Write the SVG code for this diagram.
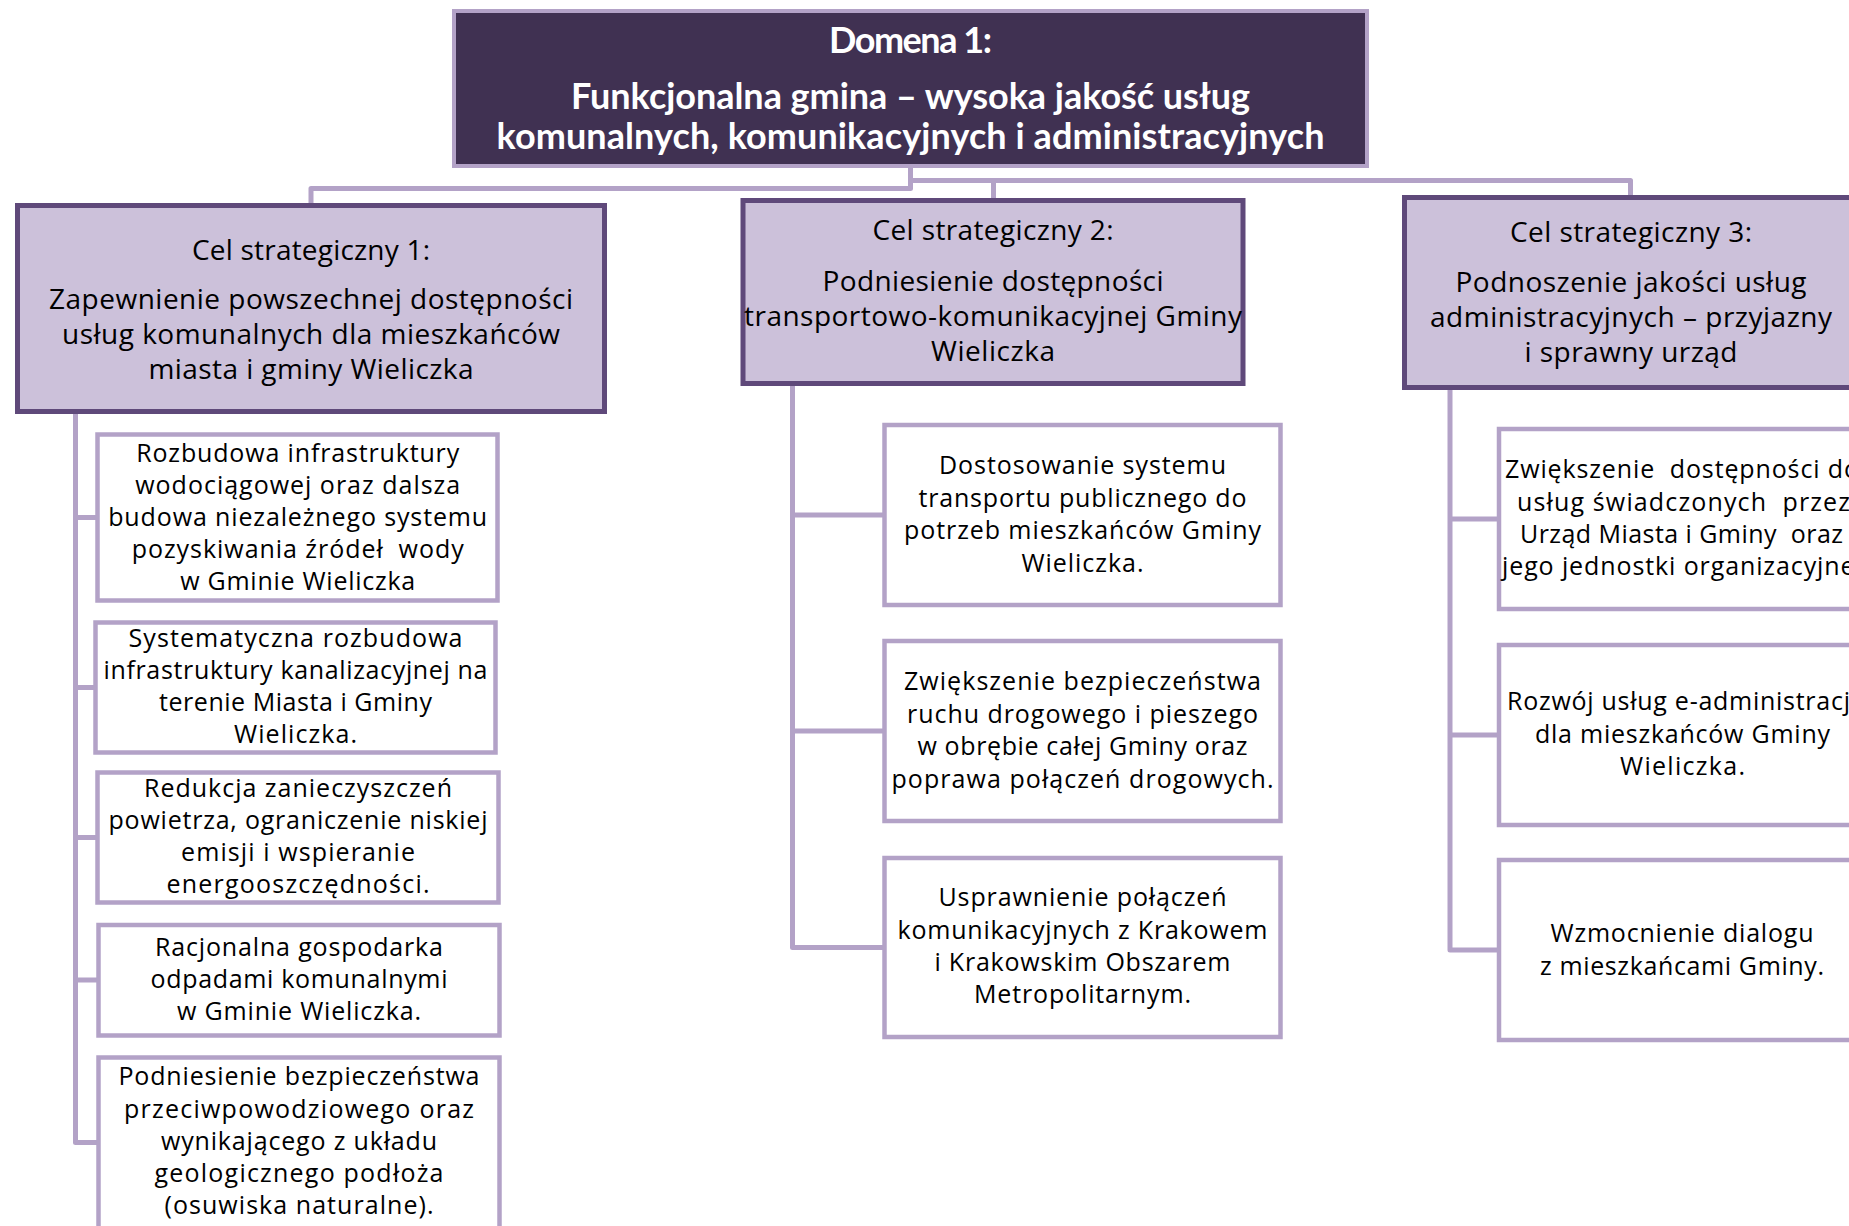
<svg xmlns="http://www.w3.org/2000/svg" width="1849" height="1226" viewBox="0 0 1849 1226">
<style>
.conn{fill:none;stroke:#b3a2c7;stroke-width:5;stroke-linejoin:round;stroke-linecap:square}
.top rect{fill:#403152;stroke:#b3a2c7;stroke-width:4}
.cel rect{fill:#ccc1da;stroke:#5f497a;stroke-width:5}
.task rect{fill:#ffffff;stroke:#b3a2c7;stroke-width:4.5}
text{font-family:"Open Sans","Liberation Sans",sans-serif;fill:#000;text-anchor:middle}
.top text{font-family:Lato,"Open Sans","Liberation Sans",sans-serif;font-weight:bold;font-size:36px;fill:#fff}
.cel text{font-size:28px}
.task text{font-size:25px}
.pre{white-space:pre}
</style>
<rect width="1849" height="1226" fill="#fff"/>
<g id="connectors">
<path class="conn" d="M311,205 V188.5 H910.5 V168"/>
<path class="conn" d="M910.5,180.5 H1630.5 V197"/>
<path class="conn" d="M993.5,180.5 V200"/>
<path class="conn" d="M75.5,414 V1142.5 H96 M75.5,517.5 H96 M75.5,687.5 H94 M75.5,837.5 H96 M75.5,980 H96"/>
<path class="conn" d="M792.5,386 V947.5 H882 M792.5,515 H882 M792.5,731 H882"/>
<path class="conn" d="M1450,390 V950 H1497 M1450,519 H1497 M1450,735 H1497"/>
</g>
<g id="domena" class="top">
<rect x="454" y="11" width="913" height="155"/>
<text x="910.5" y="53" textLength="163">Domena 1:</text>
<text x="910.5" y="109" textLength="679">Funkcjonalna gmina – wysoka jakość usług</text>
<text x="910.5" y="149" textLength="828">komunalnych, komunikacyjnych i administracyjnych</text>
</g>
<g id="cel1" class="cel">
<rect x="17.5" y="205.5" width="587" height="206"/>
<text x="311" y="260" textLength="238">Cel strategiczny 1:</text>
<text x="311" y="309" textLength="524">Zapewnienie powszechnej dostępności</text>
<text x="311" y="344" textLength="498">usług komunalnych dla mieszkańców</text>
<text x="311" y="379" textLength="325">miasta i gminy Wieliczka</text>
</g>
<g id="cel2" class="cel">
<rect x="743" y="200.5" width="500" height="183"/>
<text x="993" y="240" textLength="241">Cel strategiczny 2:</text>
<text x="993" y="291" textLength="341">Podniesienie dostępności</text>
<text x="993" y="326" textLength="498">transportowo-komunikacyjnej Gminy</text>
<text x="993" y="361" textLength="124">Wieliczka</text>
</g>
<g id="cel3" class="cel">
<rect x="1404.5" y="197.5" width="456" height="190"/>
<text x="1631" y="242" textLength="242">Cel strategiczny 3:</text>
<text x="1631" y="292" textLength="351">Podnoszenie jakości usług</text>
<text x="1631" y="327" textLength="402">administracyjnych – przyjazny</text>
<text x="1631" y="362" textLength="213">i sprawny urząd</text>
</g>
<g id="c1a" class="task">
<rect x="97.5" y="434.5" width="400" height="166"/>
<text x="297.7" y="461.5" textLength="323">Rozbudowa infrastruktury</text>
<text x="297.7" y="493.7" textLength="325">wodociągowej oraz dalsza</text>
<text x="297.7" y="525.9" textLength="379">budowa niezależnego systemu</text>
<text x="297.7" y="558.1" textLength="332" class="pre">pozyskiwania źródeł  wody</text>
<text x="297.7" y="590.3" textLength="235">w Gminie Wieliczka</text>
</g>
<g id="c1b" class="task">
<rect x="95.5" y="622.5" width="400" height="130"/>
<text x="295.5" y="647" textLength="334">Systematyczna rozbudowa</text>
<text x="295.5" y="679" textLength="384">infrastruktury kanalizacyjnej na</text>
<text x="295.5" y="711" textLength="273">terenie Miasta i Gminy</text>
<text x="295.5" y="743" textLength="123">Wieliczka.</text>
</g>
<g id="c1c" class="task">
<rect x="97.5" y="772.5" width="401" height="130"/>
<text x="298" y="797" textLength="308">Redukcja zanieczyszczeń</text>
<text x="298" y="829" textLength="379">powietrza, ograniczenie niskiej</text>
<text x="298" y="861" textLength="234">emisji i wspieranie</text>
<text x="298" y="893" textLength="263">energooszczędności.</text>
</g>
<g id="c1d" class="task">
<rect x="98.5" y="925" width="401" height="110.5"/>
<text x="299" y="956" textLength="288">Racjonalna gospodarka</text>
<text x="299" y="988" textLength="297">odpadami komunalnymi</text>
<text x="299" y="1020" textLength="244">w Gminie Wieliczka.</text>
</g>
<g id="c1e" class="task">
<rect x="98.5" y="1057.5" width="401" height="172"/>
<text x="299" y="1085" textLength="361">Podniesienie bezpieczeństwa</text>
<text x="299" y="1117.5" textLength="350">przeciwpowodziowego oraz</text>
<text x="299" y="1150" textLength="276">wynikającego z układu</text>
<text x="299" y="1182" textLength="289">geologicznego podłoża</text>
<text x="299" y="1214" textLength="269">(osuwiska naturalne).</text>
</g>
<g id="c2a" class="task">
<rect x="884.5" y="425" width="396" height="180"/>
<text x="1082.5" y="474" textLength="287">Dostosowanie systemu</text>
<text x="1082.5" y="506.5" textLength="328">transportu publicznego do</text>
<text x="1082.5" y="539" textLength="357">potrzeb mieszkańców Gminy</text>
<text x="1082.5" y="571.5" textLength="122">Wieliczka.</text>
</g>
<g id="c2b" class="task">
<rect x="884.5" y="641" width="396" height="180"/>
<text x="1082.5" y="690" textLength="357">Zwiększenie bezpieczeństwa</text>
<text x="1082.5" y="723" textLength="351">ruchu drogowego i pieszego</text>
<text x="1082.5" y="755" textLength="330">w obrębie całej Gminy oraz</text>
<text x="1082.5" y="788" textLength="382">poprawa połączeń drogowych.</text>
</g>
<g id="c2c" class="task">
<rect x="884.5" y="858" width="396" height="179"/>
<text x="1082.5" y="906" textLength="288">Usprawnienie połączeń</text>
<text x="1082.5" y="938.5" textLength="370">komunikacyjnych z Krakowem</text>
<text x="1082.5" y="971" textLength="296">i Krakowskim Obszarem</text>
<text x="1082.5" y="1003" textLength="217">Metropolitarnym.</text>
</g>
<g id="c3a" class="task">
<rect x="1499" y="429" width="367" height="180"/>
<text x="1682" y="477.5" textLength="354" class="pre">Zwiększenie  dostępności do</text>
<text x="1683.5" y="510.5" textLength="333" class="pre">usług świadczonych  przez</text>
<text x="1681.5" y="542.5" textLength="323" class="pre">Urząd Miasta i Gminy  oraz</text>
<text x="1682" y="575" textLength="360">jego jednostki organizacyjne.</text>
</g>
<g id="c3b" class="task">
<rect x="1499" y="645" width="367" height="180"/>
<text x="1682" y="710" textLength="350">Rozwój usług e-administracji</text>
<text x="1682.5" y="743" textLength="295">dla mieszkańców Gminy</text>
<text x="1682.5" y="775" textLength="125">Wieliczka.</text>
</g>
<g id="c3c" class="task">
<rect x="1499" y="860" width="367" height="180"/>
<text x="1682" y="942" textLength="263">Wzmocnienie dialogu</text>
<text x="1682" y="975" textLength="284">z mieszkańcami Gminy.</text>
</g>
</svg>
